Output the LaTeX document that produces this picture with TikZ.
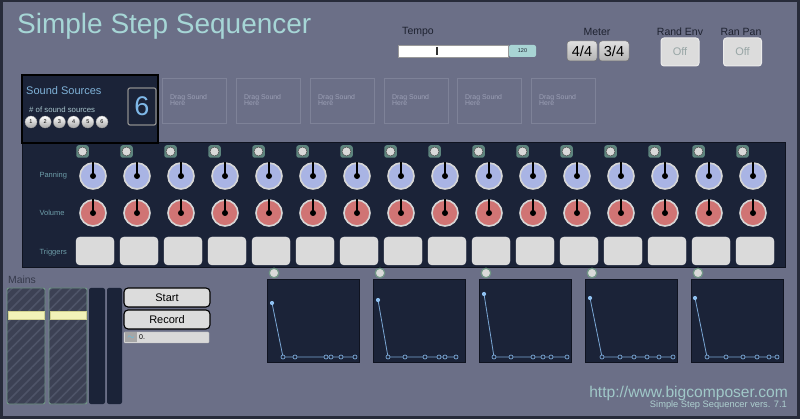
\documentclass[tikz,border=0pt]{standalone}
\usepackage{fontspec}
\setmainfont{Liberation Sans}
\usetikzlibrary{patterns.meta}
\definecolor{bgc}{HTML}{6B6F87}
\definecolor{framec}{HTML}{272B3A}
\definecolor{panelc}{HTML}{1B2338}
\definecolor{panelline}{HTML}{0F1320}
\definecolor{titlec}{HTML}{A6D6D6}
\definecolor{lblc}{HTML}{6E9EAA}
\definecolor{panc}{HTML}{A9B4E4}
\definecolor{volc}{HTML}{D07474}
\definecolor{rimc}{HTML}{D6D6D6}
\definecolor{indc}{HTML}{5E857E}
\definecolor{indfill}{HTML}{D9D9D9}
\definecolor{trigc}{HTML}{DADADA}
\definecolor{envc}{HTML}{7AA6D4}
\definecolor{envdot}{HTML}{8FC0F0}
\definecolor{dragc}{HTML}{7E8298}
\definecolor{dragt}{HTML}{9CA0B6}
\definecolor{srcc}{HTML}{7FB2D8}
\definecolor{numc}{HTML}{7FB8E8}
\definecolor{urlc}{HTML}{A0C8C8}
\definecolor{faderc}{HTML}{3C4154}
\definecolor{stripec}{HTML}{4E5468}
\definecolor{faderline}{HTML}{6F9585}
\definecolor{yelc}{HTML}{F2F2B8}
\definecolor{yelline}{HTML}{D2D290}
\definecolor{btnc}{HTML}{DCDCDC}
\definecolor{offc}{HTML}{98A6A6}
\definecolor{darktext}{HTML}{1E2230}
\definecolor{tealbox}{HTML}{A8D4D4}
\newcommand\fsz[1]{\fontsize{#1}{#1}\selectfont}
\begin{document}
\begin{tikzpicture}[x=1pt,y=-1pt,
  knobstyle/.style={circle, inner sep=0pt, minimum size=26pt, draw=rimc, line width=1.6pt},
  pointer/.style={line width=1.8pt, black},
  indbox/.style={rectangle, rounded corners=2.5pt, fill=indc, minimum size=12.5pt, inner sep=0pt},
  inddot/.style={circle, fill=indfill, draw=black!70, line width=0.5pt, minimum size=9pt, inner sep=0pt},
  trigbox/.style={rectangle, rounded corners=4pt, fill=trigc, draw=white!90!black, line width=0.4pt, minimum width=38pt, minimum height=28pt, inner sep=0pt},
  rowlabel/.style={anchor=west, text=lblc, font=\fsz{7.5}},
  dragbox/.style={rectangle, draw=dragc, line width=0.8pt, minimum width=64pt, minimum height=45pt, inner sep=0pt},
  dragtext/.style={anchor=west, text=dragt, font=\fsz{6.9}, align=left, inner sep=0pt},
  numball/.style={circle, inner sep=0pt, minimum size=12pt, top color=white, bottom color=black!35, draw=black!40, line width=0.3pt, font=\fsz{5.5}, text=black},
  envbox/.style={fill=panelc, draw=panelline, line width=0.8pt},
  envind/.style={circle, fill=indfill, draw=faderline, line width=1.2pt, minimum size=9.5pt, inner sep=0pt},
  envline/.style={envc, line width=0.8pt},
  envfirst/.style={fill=envdot},
  envpt/.style={fill=panelc, draw=envc, line width=0.7pt},
  bigbtn/.style={rectangle, rounded corners=4pt, fill=btnc, draw=black, line width=1.1pt, minimum width=86pt, minimum height=19pt, inner sep=0pt, font=\fsz{11}},
  meterbtn/.style={rectangle, rounded corners=3pt, top color=white!88!black, bottom color=black!30, draw=black!55, line width=0.5pt, minimum width=30pt, minimum height=20pt, inner sep=0pt, font=\fsz{14.5}},
  offbtn/.style={rectangle, rounded corners=3pt, fill=btnc, draw=white!92!black, line width=1pt, minimum width=38pt, minimum height=28pt, inner sep=0pt, font=\fsz{11}, text=offc},
  toptext/.style={text=darktext, font=\fsz{10.5}, inner sep=0pt}
]
\useasboundingbox (0,0) rectangle (800,419);
% frame and background
\fill[framec] (0,0) rectangle (800,419);
\fill[bgc] (3,2) rectangle (797,416);

% title
\node[anchor=base west, text=titlec, font=\fsz{28}, inner sep=0pt] (title) at (17,34) {Simple Step Sequencer};

% tempo
\node[toptext] (tempolbl) at (418,32) {Tempo};
\node[rectangle, fill=white, draw=black!40, line width=0.5pt, minimum width=110pt, minimum height=12pt, inner sep=0pt] (slider) at (453,51) {};
\draw[line width=1.6pt, black!80] (437,47) -- (437,55);
\node[rectangle, rounded corners=2pt, fill=tealbox, minimum width=27pt, minimum height=12pt, inner sep=0pt, font=\fsz{5.5}, text=darktext] (tempoval) at (522.5,51) {120};

% meter
\node[toptext] (meterlbl) at (597,32) {Meter};
\node[meterbtn] (m44) at (582,51) {4/4};
\node[meterbtn] (m34) at (614,51) {3/4};

% rand env / ran pan
\node[toptext] (randlbl) at (680,32) {Rand Env};
\node[offbtn] (randbtn) at (680,52) {Off};
\node[toptext] (panlbl) at (741,32) {Ran Pan};
\node[offbtn] (panbtn) at (742.5,52) {Off};

% drag boxes
\foreach \dx [count=\k] in {162,236,310,384,457,531} {
  \node[dragbox, anchor=north west] (drag\k) at (\dx,78) {};
  \node[dragtext] (dragt\k) at (\dx+8,100) {Drag Sound\\[-1.2pt]Here};
}

% main panel
\fill[panelc] (22,143) rectangle (785,268);
\draw[panelline, line width=1pt] (22,143) rectangle (785,268);

% sound sources box
\fill[panelc] (22,75) rectangle (158,143);
\draw[black, line width=2.5pt] (22,75) rectangle (158,143);
\node[anchor=base west, text=srcc, font=\fsz{11}, inner sep=0pt] (srclbl) at (26,95) {Sound Sources};
\node[anchor=base west, text=lblc!60!white, font=\fsz{7.8}, inner sep=0pt] (srcnum) at (29,113) {\# of sound sources};
\foreach \n [evaluate=\n as \bx using 31+14.2*(\n-1)] in {1,...,6} {
  \node[numball] (ball\n) at (\bx,122) {\n};
}
\node[rectangle, rounded corners=2pt, draw=black!45, line width=1.2pt, fill=panelc, minimum width=28pt, minimum height=37pt, inner sep=0pt, text=numc, font=\fsz{27}] (numsrc) at (142,106.5) {6};

% row labels
\node[rowlabel] (lpan) at (36,176) {Panning};
\node[rowlabel] (lvol) at (36,213) {Volume};
\node[rowlabel] (ltrig) at (36,253) {Triggers};

% columns
\foreach \i [evaluate=\i as \kx using 93+44*\i] in {0,...,15} {
  \node[indbox] (ib\i) at (\kx-10.5,151.5) {};
  \node[inddot] (id\i) at (ib\i.center) {};
  \node[knobstyle, fill=panc] (pan\i) at (\kx,176) {};
  \draw[pointer] (pan\i.center) -- ++(0,-13.5);
  \fill[black] (pan\i.center) circle[radius=3];
  \node[knobstyle, fill=volc] (vol\i) at (\kx,213) {};
  \draw[pointer] (vol\i.center) -- ++(0,-13.5);
  \fill[black] (vol\i.center) circle[radius=3];
  \node[trigbox] (trig\i) at (\kx+2,251) {};
}

% mains
\node[anchor=west, text=darktext!70!bgc, font=\fsz{10.4}, inner sep=0pt] (mainslbl) at (8,280) {Mains};
\foreach \fx [count=\k] in {7,49} {
  \fill[faderc, rounded corners=2pt] (\fx,288) rectangle (\fx+38,404);
  \pattern[rounded corners=2pt, pattern={Lines[angle=45,distance=7pt,line width=1.6pt]}, pattern color=stripec] (\fx,288) rectangle (\fx+38,404);
  \draw[faderline, line width=0.9pt, rounded corners=2pt] (\fx,288) rectangle (\fx+38,404);
  \node[rectangle, fill=yelc, draw=yelline, line width=0.6pt, minimum width=36pt, minimum height=8pt, inner sep=0pt] (fader\k) at (\fx+19,315) {};
}
\fill[panelc, rounded corners=2pt] (89,288) rectangle (105,404);
\fill[panelc, rounded corners=2pt] (107,288) rectangle (122,404);

% start / record
\node[bigbtn] (startbtn) at (167,297.5) {Start};
\node[bigbtn] (recbtn) at (167,319.5) {Record};
\node[rectangle, rounded corners=1pt, fill=white!85!black, draw=black!25, line width=0.4pt, minimum width=85pt, minimum height=11pt, inner sep=0pt] (field) at (166.5,337.5) {};
\node[rectangle, fill=black!35!white, minimum width=12pt, minimum height=10pt, inner sep=0pt, text=cyan!70!white, font=\fsz{9}] (fieldicon) at (131,337.5) {$\sim$};
\node[anchor=west, font=\fsz{7}, text=black, inner sep=0pt] (fieldtxt) at (139,337.5) {0.};

% envelopes
\foreach \ex [count=\k] in {267,373,479,585,691} {
  \draw[envbox] (\ex,279) rectangle (\ex+92,362);
  \node[envind] (envi\k) at (\ex+7,273) {};
}
\newcommand\envplot[7]{%
  \draw[envline] #1 -- #2 -- #3 -- #4 -- #5 -- #6 -- #7;
  \fill[envfirst] #1 circle[radius=2.1];
  \foreach \p in {#2,#3,#4,#5,#6,#7} { \filldraw[envpt] \p circle[radius=2]; }
}
\envplot{(272,303)}{(283,357)}{(295,357)}{(326,357)}{(331,357)}{(341,357)}{(355,357)}
\envplot{(378,300)}{(388,357)}{(405,357)}{(425,357)}{(439,357)}{(445,357)}{(456,357)}
\envplot{(484,294)}{(494,357)}{(511,357)}{(533,357)}{(543,357)}{(551,357)}{(567,357)}
\envplot{(590,298)}{(602,357)}{(620,357)}{(634,357)}{(647,357)}{(659,357)}{(673,357)}
\envplot{(695,298)}{(707,357)}{(726,357)}{(743,357)}{(757,357)}{(769,357)}{(777,357)}

% footer
\node[anchor=east, text=urlc, font=\fsz{15.6}, inner sep=0pt] (url) at (788,393) {http://www.bigcomposer.com};
\node[anchor=east, text=urlc!85!white, font=\fsz{9.3}, inner sep=0pt] (vers) at (787,405) {Simple Step Sequencer vers. 7.1};
\end{tikzpicture}
\end{document}
